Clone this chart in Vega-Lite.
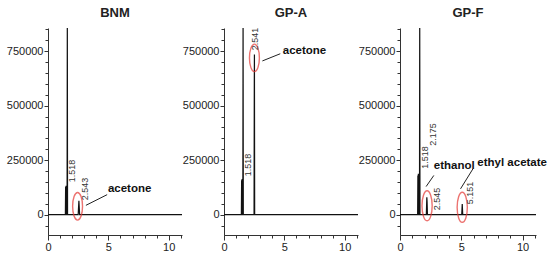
{
  "$schema": "https://vega.github.io/schema/vega-lite/v6.json",
  "padding": {"left": 6, "top": 6, "right": 0, "bottom": 0},
  "background": "white",
  "config": {
    "view": {"stroke": null},
    "font": "Liberation Sans",
    "title": {"font": "Liberation Sans", "fontSize": 13, "fontWeight": "bold", "color": "#222", "offset": 8},
    "axis": {"grid": false, "title": null, "domainColor": "#333", "tickColor": "#333", "labelFont": "Liberation Sans", "labelFontSize": 11, "labelColor": "#222", "labelPadding": 1, "labelFlush": false, "labelOverlap": false}
  },
  "spacing": 0,
  "datasets": {
    "trace": [
      {"panel": "BNM", "t": 0, "v": 0}, {"panel": "BNM", "t": 1.44, "v": 0}, {"panel": "BNM", "t": 1.46, "v": 128000}, {"panel": "BNM", "t": 1.48, "v": 0}, {"panel": "BNM", "t": 1.5, "v": 133000}, {"panel": "BNM", "t": 1.52, "v": 0}, {"panel": "BNM", "t": 1.58, "v": 0}, {"panel": "BNM", "t": 1.6, "v": 900000}, {"panel": "BNM", "t": 1.62, "v": 0}, {"panel": "BNM", "t": 2.5, "v": 0}, {"panel": "BNM", "t": 2.56, "v": 64000}, {"panel": "BNM", "t": 2.62, "v": 0}, {"panel": "BNM", "t": 11.1, "v": 0},
      {"panel": "GP-A", "t": 0, "v": 0}, {"panel": "GP-A", "t": 1.44, "v": 0}, {"panel": "GP-A", "t": 1.46, "v": 158000}, {"panel": "GP-A", "t": 1.48, "v": 0}, {"panel": "GP-A", "t": 1.5, "v": 164000}, {"panel": "GP-A", "t": 1.52, "v": 0}, {"panel": "GP-A", "t": 1.56, "v": 0}, {"panel": "GP-A", "t": 1.58, "v": 900000}, {"panel": "GP-A", "t": 1.6, "v": 0}, {"panel": "GP-A", "t": 2.49, "v": 0}, {"panel": "GP-A", "t": 2.51, "v": 600000}, {"panel": "GP-A", "t": 2.52, "v": 735000}, {"panel": "GP-A", "t": 2.54, "v": 0}, {"panel": "GP-A", "t": 11.1, "v": 0},
      {"panel": "GP-F", "t": 0, "v": 0}, {"panel": "GP-F", "t": 1.44, "v": 0}, {"panel": "GP-F", "t": 1.46, "v": 180000}, {"panel": "GP-F", "t": 1.48, "v": 0}, {"panel": "GP-F", "t": 1.5, "v": 188000}, {"panel": "GP-F", "t": 1.52, "v": 0}, {"panel": "GP-F", "t": 1.59, "v": 0}, {"panel": "GP-F", "t": 1.61, "v": 900000}, {"panel": "GP-F", "t": 1.63, "v": 0}, {"panel": "GP-F", "t": 2.15, "v": 0}, {"panel": "GP-F", "t": 2.19, "v": 80000}, {"panel": "GP-F", "t": 2.21, "v": 60000}, {"panel": "GP-F", "t": 2.24, "v": 0}, {"panel": "GP-F", "t": 5.04, "v": 0}, {"panel": "GP-F", "t": 5.08, "v": 49000}, {"panel": "GP-F", "t": 5.12, "v": 0}, {"panel": "GP-F", "t": 11.1, "v": 0}
    ],
    "rt": [
      {"panel": "BNM", "t": 1.96, "v": 200000, "label": "1.518"},
      {"panel": "BNM", "t": 3.1, "v": 118000, "label": "2.543"},
      {"panel": "GP-A", "t": 2.0, "v": 228000, "label": "1.518"},
      {"panel": "GP-A", "t": 2.6, "v": 806000, "label": "2.541"},
      {"panel": "GP-F", "t": 2.0, "v": 262000, "label": "1.518"},
      {"panel": "GP-F", "t": 2.68, "v": 368000, "label": "2.175"},
      {"panel": "GP-F", "t": 3.06, "v": 72000, "label": "2.545"},
      {"panel": "GP-F", "t": 5.74, "v": 100000, "label": "5.151"}
    ],
    "names": [
      {"panel": "BNM", "t": 4.96, "v": 119000, "label": "acetone"},
      {"panel": "GP-A", "t": 4.87, "v": 751000, "label": "acetone"},
      {"panel": "GP-F", "t": 2.76, "v": 222000, "label": "ethanol"},
      {"panel": "GP-F", "t": 6.31, "v": 238000, "label": "ethyl acetate"}
    ],
    "leaders": [
      {"panel": "BNM", "t": 3.14, "v": 43000, "t2": 4.9, "v2": 92000},
      {"panel": "GP-A", "t": 3.18, "v": 705000, "t2": 4.66, "v2": 738000},
      {"panel": "GP-F", "t": 2.13, "v": 129000, "t2": 2.76, "v2": 180000},
      {"panel": "GP-F", "t": 4.94, "v": 118500, "t2": 5.96, "v2": 211000}
    ],
    "circles": [
      {"panel": "BNM", "t": 2.45, "v": 38500},
      {"panel": "GP-A", "t": 2.52, "v": 719000},
      {"panel": "GP-F", "t": 2.21, "v": 41000},
      {"panel": "GP-F", "t": 5.08, "v": 34000}
    ]
  },
  "hconcat": [
    {
      "title": "BNM",
      "width": 134, "height": 207,
      "resolve": {"axis": {"x": "independent", "y": "independent"}},
      "layer": [
        {"data": {"name": "trace"}, "transform": [{"filter": "datum.panel === 'BNM'"}], "mark": {"type": "line", "color": "#111", "strokeWidth": 1.2, "clip": true},
         "encoding": {
           "x": {"field": "t", "type": "quantitative", "scale": {"domain": [0, 11.1], "nice": false, "zero": false},
                 "axis": {"orient": "bottom", "values": [0, 5, 10], "tickSize": 5}},
           "y": {"field": "v", "type": "quantitative", "scale": {"domain": [-93000, 856000], "nice": false, "zero": false},
                 "axis": {"orient": "left", "values": [0, 250000, 500000, 750000], "format": "d", "tickSize": 4}}
         }},
        {"data": {"name": "circles"}, "transform": [{"filter": "datum.panel === 'BNM'"}], "mark": {"type": "point", "filled": false, "stroke": "#e53935", "strokeWidth": 1.4, "size": 760, "shape": "M0,-1A0.36,1,0,1,1,0,1A0.36,1,0,1,1,0,-1Z"},
         "encoding": {
           "x": {"field": "t", "type": "quantitative", "axis": {"orient": "bottom", "values": [0,1,2,3,4,5,6,7,8,9,10,11], "labels": false, "domain": false, "tickSize": 3}},
           "y": {"field": "v", "type": "quantitative", "axis": {"orient": "left", "values": [-50000,0,50000,100000,150000,200000,250000,300000,350000,400000,450000,500000,550000,600000,650000,700000,750000,800000,850000], "labels": false, "domain": false, "tickSize": 3}}
         }},
        {"data": {"name": "leaders"}, "transform": [{"filter": "datum.panel === 'BNM'"}], "mark": {"type": "rule", "color": "#222", "strokeWidth": 1},
         "encoding": {"x": {"field": "t", "type": "quantitative", "axis": null}, "y": {"field": "v", "type": "quantitative", "axis": null}, "x2": {"field": "t2"}, "y2": {"field": "v2"}}},
        {"data": {"name": "rt"}, "transform": [{"filter": "datum.panel === 'BNM'"}], "mark": {"type": "text", "angle": 270, "fontSize": 9, "color": "#333", "align": "center", "baseline": "middle"},
         "encoding": {"x": {"field": "t", "type": "quantitative", "axis": null}, "y": {"field": "v", "type": "quantitative", "axis": null}, "text": {"field": "label"}}},
        {"data": {"name": "names"}, "transform": [{"filter": "datum.panel === 'BNM'"}], "mark": {"type": "text", "fontSize": 11.5, "fontWeight": "bold", "color": "#111", "align": "left", "baseline": "middle"},
         "encoding": {"x": {"field": "t", "type": "quantitative", "axis": null}, "y": {"field": "v", "type": "quantitative", "axis": null}, "text": {"field": "label"}}}
      ]
    },
    {
      "title": "GP-A",
      "width": 134, "height": 207,
      "resolve": {"axis": {"x": "independent", "y": "independent"}},
      "layer": [
        {"data": {"name": "trace"}, "transform": [{"filter": "datum.panel === 'GP-A'"}], "mark": {"type": "line", "color": "#111", "strokeWidth": 1.2, "clip": true},
         "encoding": {
           "x": {"field": "t", "type": "quantitative", "scale": {"domain": [0, 11.1], "nice": false, "zero": false},
                 "axis": {"orient": "bottom", "values": [0, 5, 10], "tickSize": 5}},
           "y": {"field": "v", "type": "quantitative", "scale": {"domain": [-93000, 856000], "nice": false, "zero": false},
                 "axis": {"orient": "left", "values": [0, 250000, 500000, 750000], "format": "d", "tickSize": 4}}
         }},
        {"data": {"name": "circles"}, "transform": [{"filter": "datum.panel === 'GP-A'"}], "mark": {"type": "point", "filled": false, "stroke": "#e53935", "strokeWidth": 1.4, "size": 760, "shape": "M0,-1A0.36,1,0,1,1,0,1A0.36,1,0,1,1,0,-1Z"},
         "encoding": {
           "x": {"field": "t", "type": "quantitative", "axis": {"orient": "bottom", "values": [0,1,2,3,4,5,6,7,8,9,10,11], "labels": false, "domain": false, "tickSize": 3}},
           "y": {"field": "v", "type": "quantitative", "axis": {"orient": "left", "values": [-50000,0,50000,100000,150000,200000,250000,300000,350000,400000,450000,500000,550000,600000,650000,700000,750000,800000,850000], "labels": false, "domain": false, "tickSize": 3}}
         }},
        {"data": {"name": "leaders"}, "transform": [{"filter": "datum.panel === 'GP-A'"}], "mark": {"type": "rule", "color": "#222", "strokeWidth": 1},
         "encoding": {"x": {"field": "t", "type": "quantitative", "axis": null}, "y": {"field": "v", "type": "quantitative", "axis": null}, "x2": {"field": "t2"}, "y2": {"field": "v2"}}},
        {"data": {"name": "rt"}, "transform": [{"filter": "datum.panel === 'GP-A'"}], "mark": {"type": "text", "angle": 270, "fontSize": 9, "color": "#333", "align": "center", "baseline": "middle"},
         "encoding": {"x": {"field": "t", "type": "quantitative", "axis": null}, "y": {"field": "v", "type": "quantitative", "axis": null}, "text": {"field": "label"}}},
        {"data": {"name": "names"}, "transform": [{"filter": "datum.panel === 'GP-A'"}], "mark": {"type": "text", "fontSize": 11.5, "fontWeight": "bold", "color": "#111", "align": "left", "baseline": "middle"},
         "encoding": {"x": {"field": "t", "type": "quantitative", "axis": null}, "y": {"field": "v", "type": "quantitative", "axis": null}, "text": {"field": "label"}}}
      ]
    },
    {
      "title": "GP-F",
      "width": 136, "height": 207,
      "resolve": {"axis": {"x": "independent", "y": "independent"}},
      "layer": [
        {"data": {"name": "trace"}, "transform": [{"filter": "datum.panel === 'GP-F'"}], "mark": {"type": "line", "color": "#111", "strokeWidth": 1.2, "clip": true},
         "encoding": {
           "x": {"field": "t", "type": "quantitative", "scale": {"domain": [0, 11.1], "nice": false, "zero": false},
                 "axis": {"orient": "bottom", "values": [0, 5, 10], "tickSize": 5}},
           "y": {"field": "v", "type": "quantitative", "scale": {"domain": [-93000, 856000], "nice": false, "zero": false},
                 "axis": {"orient": "left", "values": [0, 250000, 500000, 750000], "format": "d", "tickSize": 4}}
         }},
        {"data": {"name": "circles"}, "transform": [{"filter": "datum.panel === 'GP-F'"}], "mark": {"type": "point", "filled": false, "stroke": "#e53935", "strokeWidth": 1.4, "size": 900, "shape": "M0,-1A0.34,1,0,1,1,0,1A0.34,1,0,1,1,0,-1Z"},
         "encoding": {
           "x": {"field": "t", "type": "quantitative", "axis": {"orient": "bottom", "values": [0,1,2,3,4,5,6,7,8,9,10,11], "labels": false, "domain": false, "tickSize": 3}},
           "y": {"field": "v", "type": "quantitative", "axis": {"orient": "left", "values": [-50000,0,50000,100000,150000,200000,250000,300000,350000,400000,450000,500000,550000,600000,650000,700000,750000,800000,850000], "labels": false, "domain": false, "tickSize": 3}}
         }},
        {"data": {"name": "leaders"}, "transform": [{"filter": "datum.panel === 'GP-F'"}], "mark": {"type": "rule", "color": "#222", "strokeWidth": 1},
         "encoding": {"x": {"field": "t", "type": "quantitative", "axis": null}, "y": {"field": "v", "type": "quantitative", "axis": null}, "x2": {"field": "t2"}, "y2": {"field": "v2"}}},
        {"data": {"name": "rt"}, "transform": [{"filter": "datum.panel === 'GP-F'"}], "mark": {"type": "text", "angle": 270, "fontSize": 9, "color": "#333", "align": "center", "baseline": "middle"},
         "encoding": {"x": {"field": "t", "type": "quantitative", "axis": null}, "y": {"field": "v", "type": "quantitative", "axis": null}, "text": {"field": "label"}}},
        {"data": {"name": "names"}, "transform": [{"filter": "datum.panel === 'GP-F'"}], "mark": {"type": "text", "fontSize": 11.5, "fontWeight": "bold", "color": "#111", "align": "left", "baseline": "middle"},
         "encoding": {"x": {"field": "t", "type": "quantitative", "axis": null}, "y": {"field": "v", "type": "quantitative", "axis": null}, "text": {"field": "label"}}}
      ]
    }
  ]
}
